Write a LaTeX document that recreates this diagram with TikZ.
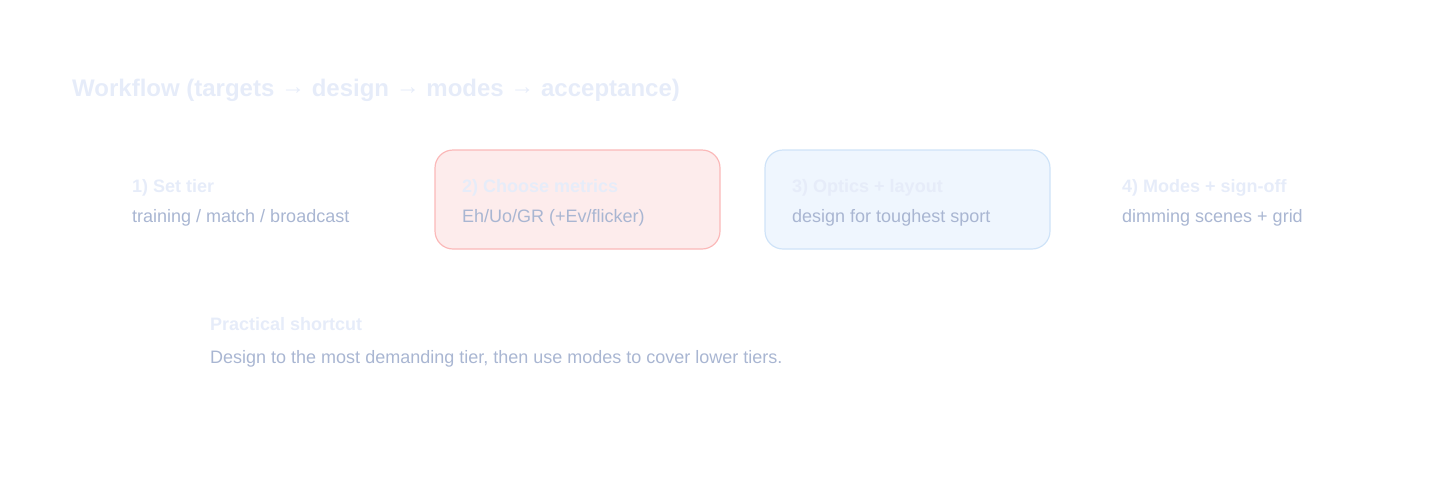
\documentclass[tikz,border=0pt]{standalone}
\usepackage{fontspec}
\setmainfont{Liberation Sans}
\definecolor{faintblue}{HTML}{E6ECF9}
\definecolor{bodyblue}{HTML}{A9B6D2}
\definecolor{redfill}{HTML}{FDECEC}
\definecolor{reddraw}{HTML}{FBB9B9}
\definecolor{bluefill}{HTML}{EFF6FE}
\definecolor{bluedraw}{HTML}{CFE3F8}
\newcommand{\flowarrow}{\textmd{\raisebox{2.5pt}{→}}}
\tikzset{
  stepbox/.style={rounded corners=18pt,minimum width=285pt,minimum height=99pt,inner sep=0pt,line width=1.2pt},
  head/.style={font=\fontsize{18}{18}\selectfont\bfseries,text=faintblue,anchor=base west,inner sep=0pt},
  note/.style={font=\fontsize{18}{18}\selectfont,text=bodyblue,anchor=base west,inner sep=0pt}
}
\begin{document}
\begin{tikzpicture}[x=1pt,y=-1pt]
\useasboundingbox (0,0) rectangle (1440,480);
\node[head,font=\fontsize{24}{24}\selectfont\bfseries] (title) at (72,96.5) {Workflow (targets \flowarrow{} design \flowarrow{} modes \flowarrow{} acceptance)};
% boxes
\node[stepbox,draw=reddraw,fill=redfill] (metrics) at (577.5,199.5) {};
\node[stepbox,draw=bluedraw,fill=bluefill] (optics) at (907.5,199.5) {};
% steps
\node[head] (tierhead) at (132,192.5) {1) Set tier};
\node[note] (tiernote) at (132,222.5) {training / match / broadcast};
\node[head] (metricshead) at (462,192.5) {2) Choose metrics};
\node[note] (metricsnote) at (462,222.5) {Eh/Uo/GR (+Ev/flicker)};
\node[head] (opticshead) at (792,192.5) {3) Optics + layout};
\node[note] (opticsnote) at (792,222.5) {design for toughest sport};
\node[head] (signoffhead) at (1122,192.5) {4) Modes + sign-off};
\node[note] (signoffnote) at (1122,222.5) {dimming scenes + grid};
% shortcut
\node[head] (shorthead) at (210,330.5) {Practical shortcut};
\node[note] (shortnote) at (210,363.5) {Design to the most demanding tier, then use modes to cover lower tiers.};
\end{tikzpicture}
\end{document}
